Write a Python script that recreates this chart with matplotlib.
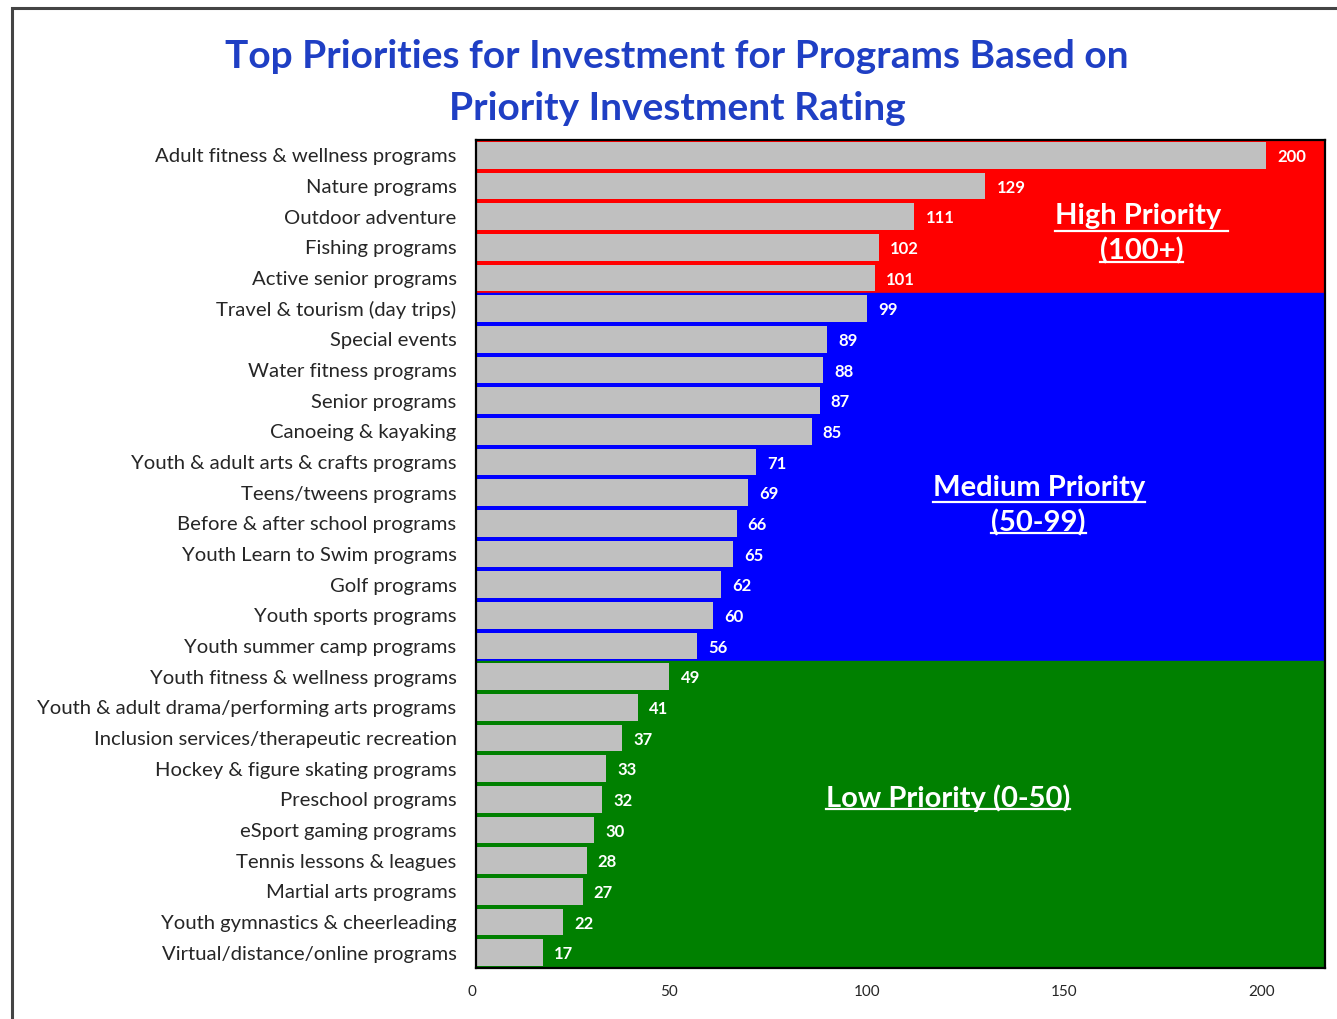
import matplotlib
matplotlib.use("Agg")
import matplotlib.pyplot as plt
from matplotlib.patches import Rectangle
from matplotlib.lines import Line2D
from matplotlib.transforms import ScaledTranslation

categories = [
    "Adult fitness & wellness programs", "Nature programs", "Outdoor adventure",
    "Fishing programs", "Active senior programs", "Travel & tourism (day trips)",
    "Special events", "Water fitness programs", "Senior programs",
    "Canoeing & kayaking", "Youth & adult arts & crafts programs",
    "Teens/tweens programs", "Before & after school programs",
    "Youth Learn to Swim programs", "Golf programs", "Youth sports programs",
    "Youth summer camp programs", "Youth fitness & wellness programs",
    "Youth & adult drama/performing arts programs",
    "Inclusion services/therapeutic recreation", "Hockey & figure skating programs",
    "Preschool programs", "eSport gaming programs", "Tennis lessons & leagues",
    "Martial arts programs", "Youth gymnastics & cheerleading",
    "Virtual/distance/online programs",
]
values = [200, 129, 111, 102, 101, 99, 89, 88, 87, 85, 71, 69, 66, 65, 62, 60,
          56, 49, 41, 37, 33, 32, 30, 28, 27, 22, 17]
x_ticks = [0, 50, 100, 150, 200]

# priority bands: (first row index, last row index, colour, label, label x, label row)
bands = [
    (0, 4, "#ff0000", "High Priority \n(100+)", 168.5, 2.56),
    (5, 16, "#0000ff", "Medium Priority\n(50-99)", 142.5, 11.42),
    (17, 26, "#008000", "Low Priority (0-50)", 119.5, 20.95),
]

FONT = "Lato"
plt.rcParams["font.family"] = [FONT, "DejaVu Sans"]

fig = plt.figure(figsize=(13.37, 10.19), dpi=100)
W, H = 1337, 1019
ax = fig.add_axes([476 / W, 1 - 968 / H, (1325 - 476) / W, (968 - 140) / H])

n = len(categories)
ypos = list(range(n))
ax.set_ylim(n - 0.5, -0.5)
ax.set_xlim(0, 215)

for first, last, color, label, lx, ly in bands:
    ax.axhspan(first - 0.5, last + 0.5, color=color, zorder=0)

ax.barh(ypos, values, height=0.86, color="#c0c0c0", zorder=2)

for y, v in zip(ypos, values):
    ax.annotate(str(v), (v, y), xytext=(8, -1.2), textcoords="offset points",
                va="center", ha="left", color="white", fontsize=12,
                fontweight="bold", zorder=3)

BAND_FS = 21
band_texts = []
for first, last, color, label, lx, ly in bands:
    t = ax.text(lx, ly, label, ha="center", va="center", color="white",
                fontsize=BAND_FS, fontweight="bold", linespacing=1.4, zorder=4)
    band_texts.append(t)

ax.set_yticks(ypos)
ax.set_yticklabels(categories, fontsize=14.6, color="#262626")
ax.set_xticks(x_ticks)
ax.set_xticklabels([str(t) for t in x_ticks], fontsize=11, color="#262626")
ax.tick_params(axis="both", length=0)
ax.tick_params(axis="y", pad=14)
ax.tick_params(axis="x", pad=12)
shift = ScaledTranslation(-4 / 100, 0, fig.dpi_scale_trans)
for lab in ax.get_xticklabels():
    lab.set_transform(lab.get_transform() + shift)
for s in ax.spines.values():
    s.set_color("black")
    s.set_linewidth(1.6)
    s.set_zorder(5)

fig.text(0.5065, 1 - 57 / H, "Top Priorities for Investment for Programs Based on",
         ha="center", va="center", fontsize=28, fontweight="bold", color="#1f3fc4")
fig.text(0.5065, 1 - 109 / H, "Priority Investment Rating",
         ha="center", va="center", fontsize=28, fontweight="bold", color="#1f3fc4")

# outer frame (cropped on right/bottom)
fig.patches.append(Rectangle((12 / W, -0.05), 1.2, 1 - 8 / H + 0.05,
                             transform=fig.transFigure, fill=False,
                             edgecolor="#444444", linewidth=2.2))

# underline priority labels
fig.canvas.draw()
r = fig.canvas.get_renderer()
inv = fig.transFigure.inverted()
for t in band_texts:
    lines = t.get_text().split("\n")
    bb = t.get_window_extent(r)
    nl = len(lines)
    lh = bb.height / nl
    for i, ln in enumerate(lines):
        tmp = fig.text(0, 0, ln, fontsize=BAND_FS, fontweight="bold")
        w = tmp.get_window_extent(r).width
        tmp.remove()
        cx = (bb.x0 + bb.x1) / 2
        ybase = bb.y1 - lh * (i + 1) + lh * 0.1
        p0 = inv.transform((cx - w / 2, ybase))
        p1 = inv.transform((cx + w / 2, ybase))
        fig.lines.append(Line2D([p0[0], p1[0]], [p0[1], p1[1]],
                                transform=fig.transFigure, color="white",
                                linewidth=1.6, zorder=6))

fig.savefig("out.png", dpi=100)
